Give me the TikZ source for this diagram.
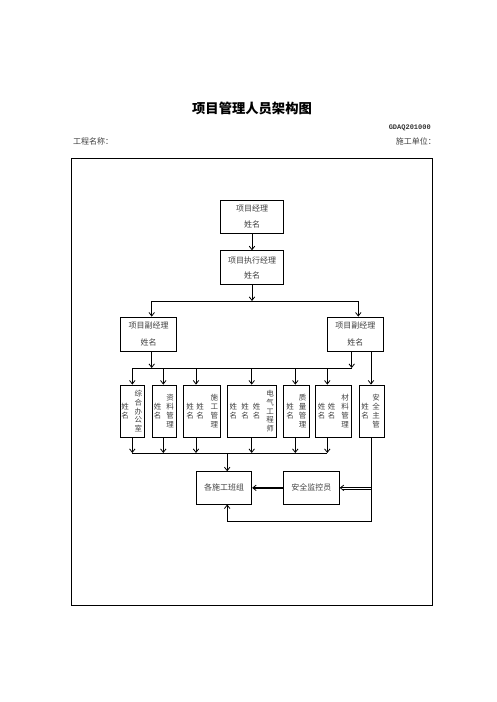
\documentclass[tikz,border=0pt]{standalone}
\usepackage{fontspec}
\setmainfont{Liberation Serif}
\newfontfamily\cjk{Noto Sans CJK SC}
\newfontfamily\monof{Liberation Mono}
\usetikzlibrary{arrows.meta}
\begin{document}
\begin{tikzpicture}[x=1pt,y=-1pt,
  arr/.style={-{Straight Barb[length=3.5pt,width=5.5pt]}, line width=0.8pt},
  ln/.style={line width=0.8pt},
  box/.style={draw, line width=0.8pt, inner sep=0pt, align=center,
    font=\cjk\fontsize{8}{9}\selectfont, text=black!75},
  rbox/.style={draw, line width=0.8pt, inner sep=0pt, minimum height=52.3pt},
  vcol/.style={inner sep=0pt, align=center, text width=8pt,
    font=\cjk\fontsize{7.5}{8.8}\selectfont, text=black!75}]
\useasboundingbox (0,0) rectangle (496,702);

% header
\node[font=\cjk\bfseries\fontsize{13.3}{14}\selectfont] (title) at (252,108) {项目管理人员架构图};
\node[anchor=east, inner sep=0pt, font=\monof\bfseries\fontsize{7}{8}\selectfont, text=black!80] (code) at (431,127.7) {GDAQ201000};
\node[anchor=west, inner sep=0pt, font=\cjk\fontsize{8}{9}\selectfont, text=black!75] (gcmc) at (73,141.5) {工程名称：};
\node[anchor=east, inner sep=0pt, font=\cjk\fontsize{8}{9}\selectfont, text=black!75] (sgdw) at (436,141.5) {施工单位：};

% frame
\draw[line width=0.9pt] (71,158) rectangle (432,605);

% top boxes
\node[box, minimum width=62.6pt, minimum height=33.3pt] (pm) at (252,216.7) {项目经理\\[7pt]姓名};
\node[box, minimum width=62.6pt, minimum height=33.6pt] (pe) at (252,267.5) {项目执行经理\\[6pt]姓名};
\node[box, minimum width=56pt, minimum height=34pt] (dl) at (148.7,334) {项目副经理\\[7.5pt]姓名};
\node[box, minimum width=56pt, minimum height=34pt] (dr) at (355.3,334) {项目副经理\\[7.5pt]姓名};

% row boxes
\node[rbox, minimum width=23.6pt] (b1) at (132.5,411.15) {};
\node[rbox, minimum width=24.4pt] (b2) at (164.5,411.15) {};
\node[rbox, minimum width=36.7pt] (b3) at (201.65,411.15) {};
\node[rbox, minimum width=49.4pt] (b4) at (252,411.15) {};
\node[rbox, minimum width=26pt] (b5) at (296.3,411.15) {};
\node[rbox, minimum width=36pt] (b6) at (333,411.15) {};
\node[rbox, minimum width=24.7pt] (b7) at (371.65,411.15) {};

% column texts
\node[vcol] (b1n) at (125,411.15) {姓\\名};
\node[vcol] (b1t) at (138.3,411.15) {综\\合\\办\\公\\室};
\node[vcol] (b2n) at (157.7,411.15) {姓\\名};
\node[vcol] (b2t) at (170,411.15) {资\\料\\管\\理};
\node[vcol] (b3n1) at (190,411.15) {姓\\名};
\node[vcol] (b3n2) at (200,411.15) {姓\\名};
\node[vcol] (b3t) at (214.3,411.15) {施\\工\\管\\理};
\node[vcol] (b4n1) at (233.3,411.15) {姓\\名};
\node[vcol] (b4n2) at (245,411.15) {姓\\名};
\node[vcol] (b4n3) at (256.7,411.15) {姓\\名};
\node[vcol] (b4t) at (270,411.15) {电\\气\\工\\程\\师};
\node[vcol] (b5n) at (290,411.15) {姓\\名};
\node[vcol] (b5t) at (302.7,411.15) {质\\量\\管\\理};
\node[vcol] (b6n1) at (321.7,411.15) {姓\\名};
\node[vcol] (b6n2) at (331.7,411.15) {姓\\名};
\node[vcol] (b6t) at (345,411.15) {材\\料\\管\\理};
\node[vcol] (b7n) at (365,411.15) {姓\\名};
\node[vcol] (b7t) at (376,411.15) {安\\全\\主\\管};

% bottom boxes
\node[box, minimum width=55pt, minimum height=32.3pt] (ban) at (224.2,487.85) {各施工班组};
\node[box, minimum width=56pt, minimum height=32.3pt] (jk) at (311.3,487.85) {安全监控员};

% connectors: top
\coordinate (j1) at (252,301);
\draw[arr] (pm) -- (pe);
\draw[arr] (pe) -- (j1);
\draw[ln] ([xshift=3pt]dl.north |- j1) -- ([xshift=3pt]dr.north |- j1);
\draw[arr] ([xshift=3pt]dl.north |- j1) -- ([xshift=3pt]dl.north);
\draw[arr] ([xshift=3pt]dr.north |- j1) -- ([xshift=3pt]dr.north);

% bar 2
\coordinate (t1) at (132.3,368);
\coordinate (t2) at (163.3,368);
\coordinate (t3) at (196,368);
\coordinate (t4) at (251.7,368);
\coordinate (t5) at (295.3,368);
\coordinate (t6) at (327.3,368);
\coordinate (tr) at (351.7,368);
\draw[ln] (t1) -- (tr);
\draw[arr] ([xshift=3pt]dl.south) -- ([xshift=3pt]dl.south |- t1);
\draw[arr] (dr.south -| tr) -- (tr);
\draw[arr] (dr.south -| 371,0) -- (b7.north -| 371,0);
\draw[arr] (t1) -- (b1.north -| t1);
\draw[arr] (t2) -- (b2.north -| t2);
\draw[arr] (t3) -- (b3.north -| t3);
\draw[arr] (t4) -- (b4.north -| t4);
\draw[arr] (t5) -- (b5.north -| t5);
\draw[arr] (t6) -- (b6.north -| t6);

% bar 3
\coordinate (u1) at (132.3,453);
\coordinate (u2) at (163.3,453);
\coordinate (u3) at (196,453);
\coordinate (u4) at (251.7,453);
\coordinate (u5) at (295.3,453);
\coordinate (u6) at (327.3,453);
\draw[ln] (u1) -- (u6);
\draw[arr] (b1.south -| u1) -- (u1);
\draw[arr] (b2.south -| u2) -- (u2);
\draw[arr] (b3.south -| u3) -- (u3);
\draw[arr] (b4.south -| u4) -- (u4);
\draw[arr] (b5.south -| u5) -- (u5);
\draw[arr] (b6.south -| u6) -- (u6);
\draw[arr] ([xshift=3pt]ban.north |- u1) -- ([xshift=3pt]ban.north);

% safety loop
\coordinate (c1) at (371,521);
\coordinate (c2) at (371,487.85);
\draw[arr] (b7.south -| c1) -- (c1) -| ([xshift=3pt]ban.south);
\draw[arr] (c2) -- (jk.east);
\draw[ln] ([yshift=-1.6pt]c2) -- ([xshift=3pt,yshift=-1.6pt]jk.east);
\draw[-{Straight Barb[length=3.5pt,width=5.5pt,line width=0.8pt]}, line width=1.7pt] (jk.west) -- (ban.east);
\end{tikzpicture}
\end{document}
